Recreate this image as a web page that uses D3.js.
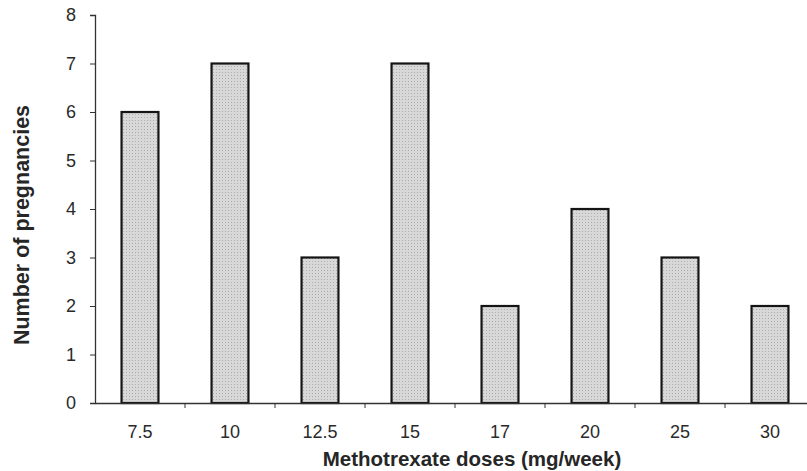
<!DOCTYPE html>
<html>
<head>
<meta charset="utf-8">
<script src="https://cdn.jsdelivr.net/npm/d3@7"></script>
<style>
  body { margin: 0; background: #fff; }
  .tick text { font-family: "Liberation Sans", Arial, sans-serif; font-size: 18px; fill: #2a2a2a; }
  .axis-title { font-family: "Liberation Sans", Arial, sans-serif; font-weight: bold; fill: #262626; }
</style>
</head>
<body>
<script>
//doses on the x axis and pregnancy counts
var doses = ["7.5", "10", "12.5", "15", "17", "20", "25", "30"];
var pregnancies = [6, 7, 3, 7, 2, 4, 3, 2];
var yTicks = [0, 1, 2, 3, 4, 5, 6, 7, 8];

window.onload = drawChart();

function drawChart(){

    var width = 807,
        height = 471;

    var svg = d3.select("body")
        .append("svg")
        .attr("width", width)
        .attr("height", height);

    //dotted grey fill like the scanned bars
    var pat = svg.append("defs").append("pattern")
        .attr("id", "dots")
        .attr("width", 3)
        .attr("height", 3)
        .attr("patternUnits", "userSpaceOnUse");
    pat.append("rect").attr("width", 3).attr("height", 3).attr("fill", "#d8d8d8");
    pat.append("rect").attr("width", 1).attr("height", 1).attr("fill", "#adadad");

    var x = d3.scaleBand()
        .domain(doses)
        .range([95, 815])
        .paddingInner(0.59)
        .paddingOuter(0.295);

    var y = d3.scaleLinear()
        .domain([0, 8])
        .range([403, 15]);

    //bars
    svg.selectAll(".bar")
        .data(pregnancies)
        .enter()
        .append("rect")
        .attr("class", "bar")
        .attr("x", function(d, i){ return x(doses[i]); })
        .attr("y", function(d){ return y(d); })
        .attr("width", x.bandwidth())
        .attr("height", function(d){ return y(0) - y(d); })
        .attr("fill", "url(#dots)")
        .attr("stroke", "#141414")
        .attr("stroke-width", 2.2);

    //y axis
    var yAxis = svg.append("g")
        .attr("transform", "translate(95,0)")
        .call(d3.axisLeft(y).tickValues(yTicks).tickSize(5).tickPadding(14));
    yAxis.select(".domain").attr("stroke", "#333").attr("stroke-width", 1.3);
    yAxis.selectAll(".tick line").attr("stroke", "#333");

    //x axis, ticks sit between the bands
    var xAxis = svg.append("g")
        .attr("transform", "translate(0,403)")
        .call(d3.axisBottom(x).tickSize(0).tickPadding(22));
    xAxis.select(".domain").attr("stroke", "#333").attr("stroke-width", 1.3);

    var step = x.step();
    xAxis.selectAll(".sep")
        .data(doses.slice(1))
        .enter()
        .append("line")
        .attr("class", "sep")
        .attr("x1", function(d){ return x(d) - x.paddingInner() * step / 2; })
        .attr("x2", function(d){ return x(d) - x.paddingInner() * step / 2; })
        .attr("y1", 0)
        .attr("y2", 5)
        .attr("stroke", "#333");

    //axis titles
    svg.append("text")
        .attr("class", "axis-title")
        .attr("x", 472)
        .attr("y", 466)
        .attr("text-anchor", "middle")
        .style("font-size", "20.5px")
        .text("Methotrexate doses (mg/week)");

    svg.append("text")
        .attr("class", "axis-title")
        .attr("transform", "translate(29,225) rotate(-90)")
        .attr("text-anchor", "middle")
        .style("font-size", "21.5px")
        .text("Number of pregnancies");
};
</script>
</body>
</html>
